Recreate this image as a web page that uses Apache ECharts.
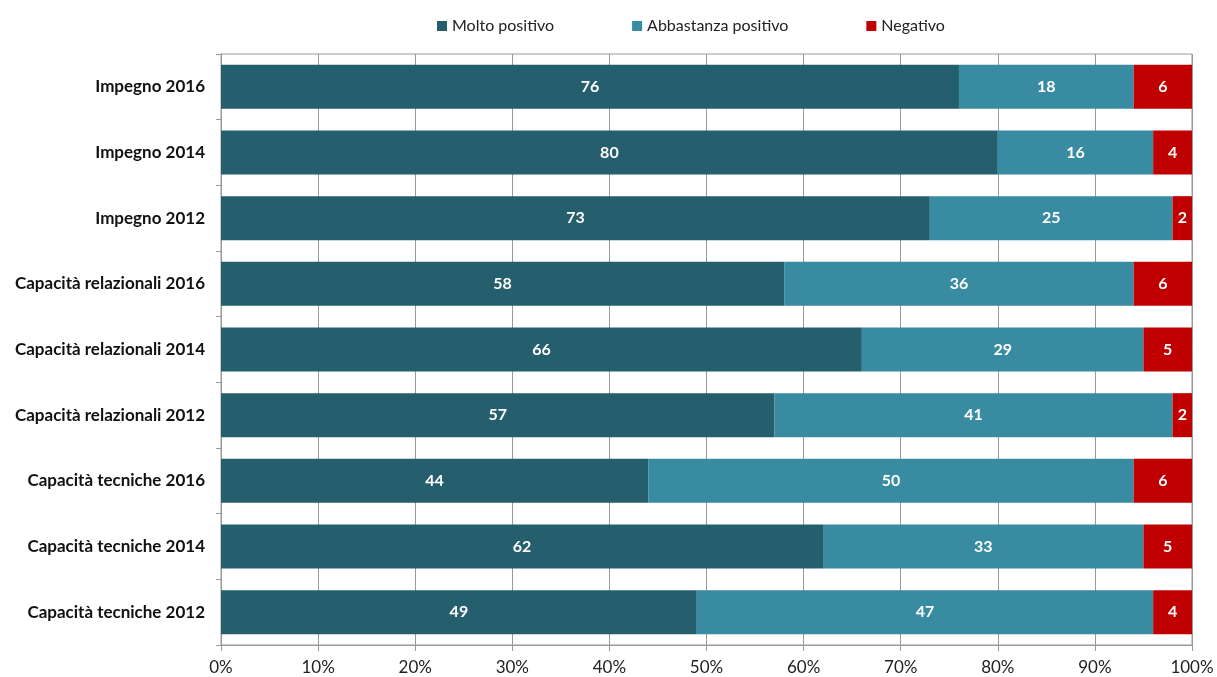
<!DOCTYPE html>
<html><head><meta charset="utf-8">
<script src="https://cdn.jsdelivr.net/npm/echarts@6/dist/echarts.min.js"></script>
<style>html,body{margin:0;padding:0;background:#fff}#c{width:1217px;height:677px}</style>
</head><body><div id="c"></div>
<script>
const categories = ["Impegno 2016","Impegno 2014","Impegno 2012","Capacità relazionali 2016","Capacità relazionali 2014","Capacità relazionali 2012","Capacità tecniche 2016","Capacità tecniche 2014","Capacità tecniche 2012"];
const molto = [76,80,73,58,66,57,44,62,49];
const abbastanza = [18,16,25,36,29,41,50,33,47];
const negativo = [6,4,2,6,5,2,6,5,4];
const seriesNames = ["Molto positivo","Abbastanza positivo","Negativo"];
const colors = ["#255E6C","#388BA0","#C00000"];
const FONT = "Lato";
const chart = echarts.init(document.getElementById('c'));
const mk = (name, data, color) => ({
  name, type:'bar', stack:'t', data, barCategoryGap:'33%',
  itemStyle:{color},
  label:{show:true, position:'inside', color:'#fff', fontWeight:'bold', fontSize:16, fontFamily:FONT},
  emphasis:{disabled:true}
});
chart.setOption({
  animation:false,
  textStyle:{fontFamily:FONT},
  legend:{top:13, left:432, itemWidth:10, itemHeight:10, itemGap:78, icon:'rect',
    textStyle:{fontSize:16, color:'#222', fontFamily:FONT}, data:seriesNames},
  grid:{left:221, right:25, top:54, bottom:32, show:true, borderColor:'#999', borderWidth:1, containLabel:false},
  xAxis:{type:'value', min:0, max:100, interval:10,
    axisLabel:{formatter:'{value}%', fontSize:17, color:'#222', margin:14, fontFamily:FONT},
    axisLine:{show:true, lineStyle:{color:'#999'}},
    axisTick:{show:true, length:6, lineStyle:{color:'#999'}},
    splitLine:{show:true, lineStyle:{color:'#999'}}},
  yAxis:{type:'category', data:categories, inverse:true,
    axisLabel:{fontSize:17, fontWeight:'bold', color:'#111', margin:16, fontFamily:FONT},
    axisLine:{show:true, lineStyle:{color:'#999'}},
    axisTick:{show:true, length:5, alignWithLabel:false, lineStyle:{color:'#999'}}},
  series:[mk(seriesNames[0],molto,colors[0]), mk(seriesNames[1],abbastanza,colors[1]), mk(seriesNames[2],negativo,colors[2])]
});
</script></body></html>
